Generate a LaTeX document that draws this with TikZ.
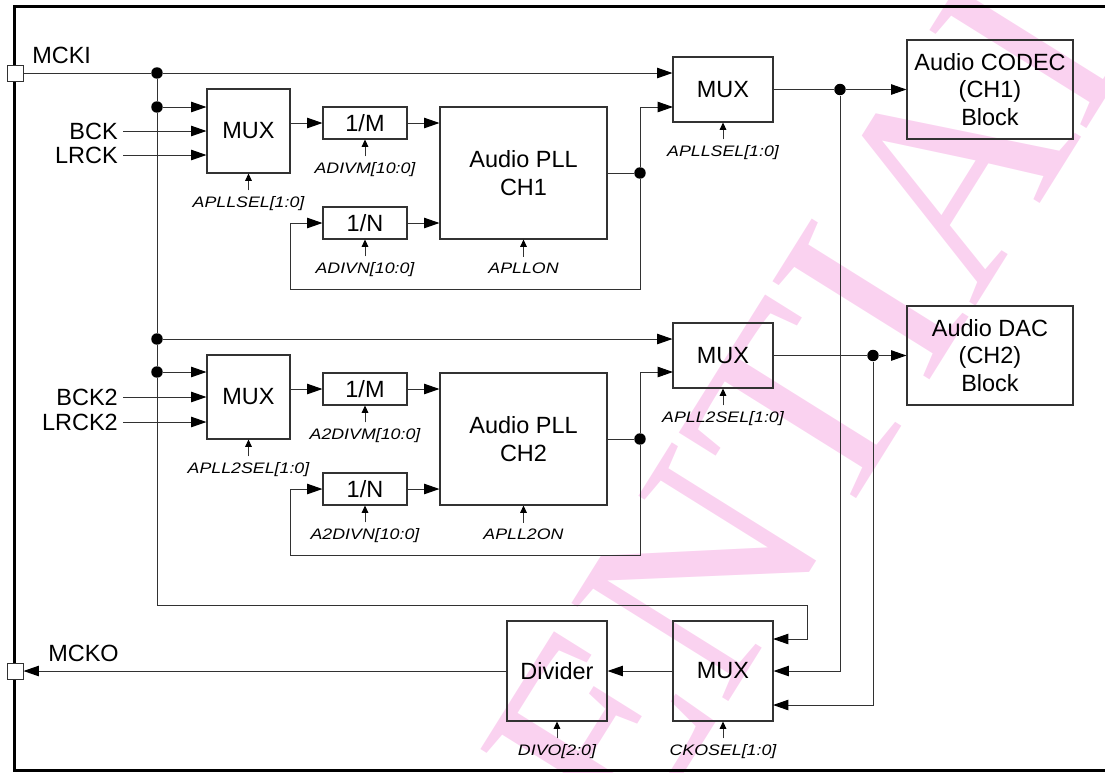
\documentclass[tikz,border=0pt]{standalone}
\usepackage{fontspec}
\setmainfont{Liberation Sans}
\newfontfamily\lblfont[FakeStretch=1.17]{Liberation Sans}
\newfontfamily\wmfont{Liberation Serif}
\usetikzlibrary{arrows.meta,calc}
\definecolor{wmpink}{RGB}{250,210,240}
\definecolor{linec}{RGB}{50,50,50}
\begin{document}
\begin{tikzpicture}[x=0.75pt,y=-0.75pt,
  blk/.style 2 args={draw=linec, line width=0.8pt, inner sep=0pt,
    minimum width=#1*0.75pt, minimum height=#2*0.75pt,
    font=\fontsize{17.6}{20.9}\selectfont, align=center},
  lbl/.style={font=\lblfont\fontsize{11.4}{13}\selectfont\itshape, inner sep=0pt, anchor=base},
  conn/.style={draw=linec, line width=0.75pt},
  arr/.style={-{Triangle[length=11.5pt,width=7.8pt,color=black]}},
  carr/.style={-{Triangle[length=5.5pt,width=5pt,color=black]}},
  dot/.style={circle, fill=black, inner sep=0pt, minimum size=8.6pt},
  pin/.style={draw=linec, fill=white, line width=0.75pt, minimum size=12pt, inner sep=0pt},
  sig/.style={font=\fontsize{17.6}{20.9}\selectfont, inner sep=0pt},
  sigl/.style={sig, inner xsep=3.75pt, anchor=east},
  frame/.style={draw=black, line width=2.25pt}
]
\useasboundingbox (0,0) rectangle (1105,772);

% watermark
\begin{scope}
\clip (0,0) rectangle (1105,772);
\node[text=wmpink, font=\wmfont\fontsize{212}{212}\selectfont, inner sep=0pt,
      rotate=58, anchor=base] (wm) at (625,868) {CONFIDENTIAL};
\end{scope}

% outer frame
\draw[frame] (1110,6.7) -- (14.5,6.7) -- (14.5,770) -- (1110,770);

% pins
\node[pin] (mcki) at (15,73) {};
\node[pin] (mcko) at (15,671) {};
\node[sig, anchor=base west] (mckil) at (32,63) {MCKI};
\node[sig, anchor=base west] (mckol) at (48,661) {MCKO};

% blocks group 1
\node[blk={83}{84}] (muxA) at (248.5,131) {MUX};
\node[blk={84}{32}] (m1) at (365,123) {1/M};
\node[blk={84}{32}] (n1) at (365,223) {1/N};
\node[blk={167}{132}] (pll1) at (523.5,173) {Audio PLL\\CH1};
\node[blk={100}{65}] (muxB) at (723,89.5) {MUX};
\node[blk={166}{99}] (codec) at (990,89.5) {Audio CODEC\\(CH1)\\Block};

% blocks group 2
\node[blk={83}{84}] (muxC) at (248.5,397) {MUX};
\node[blk={84}{32}] (m2) at (365,389) {1/M};
\node[blk={84}{32}] (n2) at (365,489) {1/N};
\node[blk={167}{132}] (pll2) at (523.5,439) {Audio PLL\\CH2};
\node[blk={100}{65}] (muxD) at (723,355.5) {MUX};
\node[blk={166}{99}] (dac) at (990,355.5) {Audio DAC\\(CH2)\\Block};

% bottom blocks
\node[blk={100}{100}] (divider) at (557,671) {Divider};
\node[blk={100}{100}] (muxE) at (723,671) {MUX};

% input signal labels
\node[sigl] (bck) at (123,131) {BCK};
\node[sigl] (lrck) at (123,155) {LRCK};
\node[sigl] (bck2) at (123,397) {BCK2};
\node[sigl] (lrck2) at (123,422) {LRCK2};

% junction dots
\node[dot] (dotA) at (157,73) {};
\node[dot] (dotB) at (157,107) {};
\node[dot] (dotC) at (157,339) {};
\node[dot] (dotD) at (157,372) {};
\node[dot] (dotE) at (640,173) {};
\node[dot] (dotH) at (640,439) {};
\node[dot] (dotF) at (840,89.5) {};
\node[dot] (dotG) at (873,355.5) {};

% helper coordinates
\coordinate (muxBi2) at (673,107);
\coordinate (muxDi2) at (673,372);
\coordinate (fbA) at (290,289);
\coordinate (fbB) at (290,555);
\coordinate (busR) at (807,605);
\coordinate (muxEi1) at (773,639);
\coordinate (muxEi3) at (773,705);

% MCKI distribution
\draw[conn] (mcki.east) -- (dotA);
\draw[conn,arr] (dotA) -- (muxB.west |- dotA);
\draw[conn] (dotA) -- (dotB) -- (dotC) -- (dotD);
\draw[conn,arr] (dotD) |- (busR) |- (muxEi1);

% group 1 connections
\draw[conn,arr] (dotB) -- (muxA.west |- dotB);
\draw[conn,arr] (bck.east) -- (muxA.west |- bck.east);
\draw[conn,arr] (lrck.east) -- (muxA.west |- lrck.east);
\draw[conn,arr] (muxA.east |- m1.west) -- (m1.west);
\draw[conn,arr] (m1.east) -- (pll1.west |- m1.east);
\draw[conn,arr] (n1.east) -- (pll1.west |- n1.east);
\draw[conn] (pll1.east) -- (dotE);
\draw[conn,arr] (dotE) |- (muxBi2);
\draw[conn,arr] (dotE) |- (fbA) |- (n1.west);
\draw[conn] (muxB.east) -- (dotF);
\draw[conn,arr] (dotF) -- (codec.west);
\draw[conn,arr] (dotF) |- (muxE.east);

% group 2 connections
\draw[conn,arr] (dotC) -- (muxD.west |- dotC);
\draw[conn,arr] (dotD) -- (muxC.west |- dotD);
\draw[conn,arr] (bck2.east) -- (muxC.west |- bck2.east);
\draw[conn,arr] (lrck2.east) -- (muxC.west |- lrck2.east);
\draw[conn,arr] (muxC.east |- m2.west) -- (m2.west);
\draw[conn,arr] (m2.east) -- (pll2.west |- m2.east);
\draw[conn,arr] (n2.east) -- (pll2.west |- n2.east);
\draw[conn] (pll2.east) -- (dotH);
\draw[conn,arr] (dotH) |- (muxDi2);
\draw[conn,arr] (dotH) |- (fbB) |- (n2.west);
\draw[conn] (muxD.east) -- (dotG);
\draw[conn,arr] (dotG) -- (dac.west);
\draw[conn,arr] (dotG) |- (muxEi3);

% bottom chain
\draw[conn,arr] (muxE.west) -- (divider.east);
\draw[conn,arr] (divider.west) -- (mcko.east);

% control labels
\foreach \b/\t/\n in {muxA/APLLSEL[1:0]/cA, m1/ADIVM[10:0]/cB, n1/ADIVN[10:0]/cC,
    pll1/APLLON/cD, muxB/APLLSEL[1:0]/cE,
    muxC/APLL2SEL[1:0]/cF, m2/A2DIVM[10:0]/cG, n2/A2DIVN[10:0]/cH,
    pll2/APLL2ON/cI, muxD/APLL2SEL[1:0]/cJ,
    divider/DIVO[2:0]/cK, muxE/CKOSEL[1:0]/cL}{
  \node[lbl] (\n) at ($(\b.south)+(0,34)$) {\t};
  \draw[conn,carr,shorten <=4.5pt] (\b.south |- \n.north) -- (\b.south);
}
\end{tikzpicture}
\end{document}
